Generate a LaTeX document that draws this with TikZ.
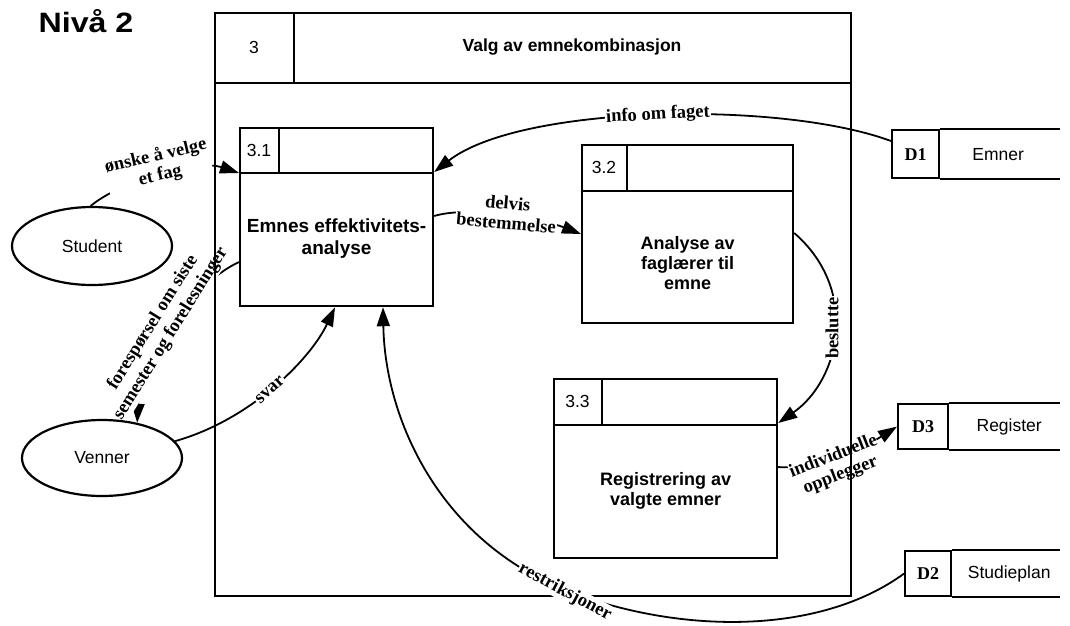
\documentclass[tikz,border=0pt]{standalone}
\usepackage{fontspec}
\usepackage{graphicx}
\setmainfont{Liberation Sans}
\newfontfamily\lblfont{Liberation Serif}
\usetikzlibrary{arrows.meta,calc,shapes.geometric}
\pgfdeclarelayer{back}
\pgfdeclarelayer{front}
\pgfsetlayers{back,main,front}

\begin{document}
\begin{tikzpicture}[x=1pt,y=-1pt,
  line width=2.2pt,
  boxtext/.style={font=\fontsize{18}{20}\selectfont\bfseries, align=center},
  idtext/.style={font=\fontsize{17.5}{20}\selectfont},
  proc/.style={draw, rectangle, inner sep=0pt, anchor=north west},
  ext/.style={draw, ellipse, inner sep=0pt, minimum width=160pt, font=\fontsize{17.5}{20}\selectfont},
  storeid/.style={draw, rectangle, inner sep=0pt, anchor=north west, font=\lblfont\bfseries\fontsize{18}{20}\selectfont},
  flow/.style={line width=1.8pt, -{Triangle[length=19pt,width=13pt]}},
  flowlbl/.style={font=\lblfont\bfseries\fontsize{18.5}{20}\selectfont, align=center, fill=white, inner sep=1pt},
]
\useasboundingbox (0,0) rectangle (1070,625);

% title
\node[font=\fontsize{28}{30}\selectfont\bfseries] (title) at (86,21) {\scalebox{1.15}[1]{Nivå 2}};

% enclosing process 3
\node[proc, minimum width=636pt, minimum height=583pt] (fr) at (214,12) {};
\draw ($(fr.north west)+(0,71)$) -- ($(fr.north east)+(0,71)$);
\draw ($(fr.north west)+(80,0)$) -- ($(fr.north west)+(80,71)$);
\node[idtext] (frid) at ($(fr.north west)+(40,35.5)$) {3};
\node[boxtext, font=\fontsize{17.5}{20}\selectfont\bfseries] (frname) at ($(fr.north west)+(358,35.5)$) {Valg av emnekombinasjon};

% process 3.1
\node[proc, minimum width=193pt, minimum height=178pt] (p31) at (239,127) {};
\draw ($(p31.north west)+(0,46)$) -- ($(p31.north east)+(0,46)$);
\draw ($(p31.north west)+(40,0)$) -- ($(p31.north west)+(40,46)$);
\node[idtext] (p31id) at ($(p31.north west)+(20,23)$) {3.1};
\node[boxtext, font=\fontsize{19}{22}\selectfont\bfseries] (p31name) at ($(p31.north)+(0,112)$) {Emnes effektivitets-\\analyse};

% process 3.2
\node[proc, minimum width=211pt, minimum height=178pt] (p32) at (581,144) {};
\draw ($(p32.north west)+(0,47)$) -- ($(p32.north east)+(0,47)$);
\draw ($(p32.north west)+(46,0)$) -- ($(p32.north west)+(46,47)$);
\node[idtext] (p32id) at ($(p32.north west)+(23,23.5)$) {3.2};
\node[boxtext] (p32name) at ($(p32.north)+(0,119)$) {Analyse av\\faglærer til\\emne};

% process 3.3
\node[proc, minimum width=223pt, minimum height=179pt] (p33) at (553,378) {};
\draw ($(p33.north west)+(0,47)$) -- ($(p33.north east)+(0,47)$);
\draw ($(p33.north west)+(49,0)$) -- ($(p33.north west)+(49,47)$);
\node[idtext] (p33id) at ($(p33.north west)+(24.5,23.5)$) {3.3};
\node[boxtext] (p33name) at ($(p33.north)+(0,113)$) {Registrering av\\valgte emner};

% data stores
\node[storeid, minimum width=47pt, minimum height=48pt] (d1) at (891,129) {D1};
\draw (d1.north east) -- ++(120,0);
\draw (d1.south east) -- ++(120,0);
\node[idtext] (d1name) at ($(d1.east)+(58,0)$) {Emner};

\node[storeid, minimum width=50pt, minimum height=45pt] (d3) at (897,403) {D3};
\draw (d3.north east) -- ++(111,0);
\draw (d3.south east) -- ++(111,0);
\node[idtext] (d3name) at ($(d3.east)+(60,0)$) {Register};

\node[storeid, minimum width=46pt, minimum height=45pt] (d2) at (904,550) {D2};
\draw (d2.north east) -- ++(108,0);
\draw (d2.south east) -- ++(108,0);
\node[idtext] (d2name) at ($(d2.east)+(57,0)$) {Studieplan};

% external entities
\node[ext, minimum height=78pt] (stud) at (92,246) {Student};
\node[ext, minimum height=76pt] (ven) at (102,458) {Venner};

% data flows
\begin{pgfonlayer}{back}
\draw[flow] (stud.92) .. controls (125,178) and (200,160) .. ($(p31.north west)+(0,46)$);
\draw[flow] ($(d1.north west)+(0,12)$) .. controls (780,100) and (520,105) .. ($(p31.north east)+(0,45)$);
\draw[flow] ($(p31.north east)+(0,89)$) .. controls (470,205) and (545,220) .. ($(p32.north west)+(0,90)$);
\draw[flow] ($(p32.north east)+(0,89)$) .. controls (860,290) and (840,380) .. ($(p33.north east)+(0,45)$);
\draw[flow] ($(p31.north west)+(0,135)$) .. controls (190,285) and (140,360) .. (ven.45);
\draw[flow] (ven.13) .. controls (250,420) and (310,360) .. ($(p31.south west)+(96,0)$);
\coordinate (rlow) at (565,590);
\draw[flow] (d2.west) .. controls (820,635) and (680,635) .. (rlow) .. controls (440,540) and (385,420) .. ($(p31.south west)+(144,0)$);
\draw[flow] ($(p33.north east)+(0,89)$) .. controls (810,470) and (860,450) .. (d3.west);

\node[flowlbl, rotate=13] (l1) at (158,166) {ønske å velge\\et fag};
\node[flowlbl, rotate=3] (l2) at (658,115) {info om faget};
\node[flowlbl, rotate=-5] (l3) at (507,213) {delvis\\bestemmelse};
\node[flowlbl, rotate=90] (l4) at (832,328) {beslutte};
\node[flowlbl, rotate=58, font=\lblfont\bfseries\fontsize{18.5}{21}\selectfont] (l5) at (162,328) {forespørsel om siste\\semester og forelesninger};
\node[flowlbl, rotate=42] (l6) at (270,390) {svar};
\node[flowlbl, rotate=21, inner sep=0pt] (l8) at (837,466) {individuelle\\opplegger};
\end{pgfonlayer}
\begin{pgfonlayer}{front}
% left wall of process 3 stays visible across the flow label
\draw (fr.north west) -- (fr.south west);
\node[flowlbl, rotate=-28] (l7) at (565,592) {restriksjoner};
\end{pgfonlayer}
\end{tikzpicture}
\end{document}
